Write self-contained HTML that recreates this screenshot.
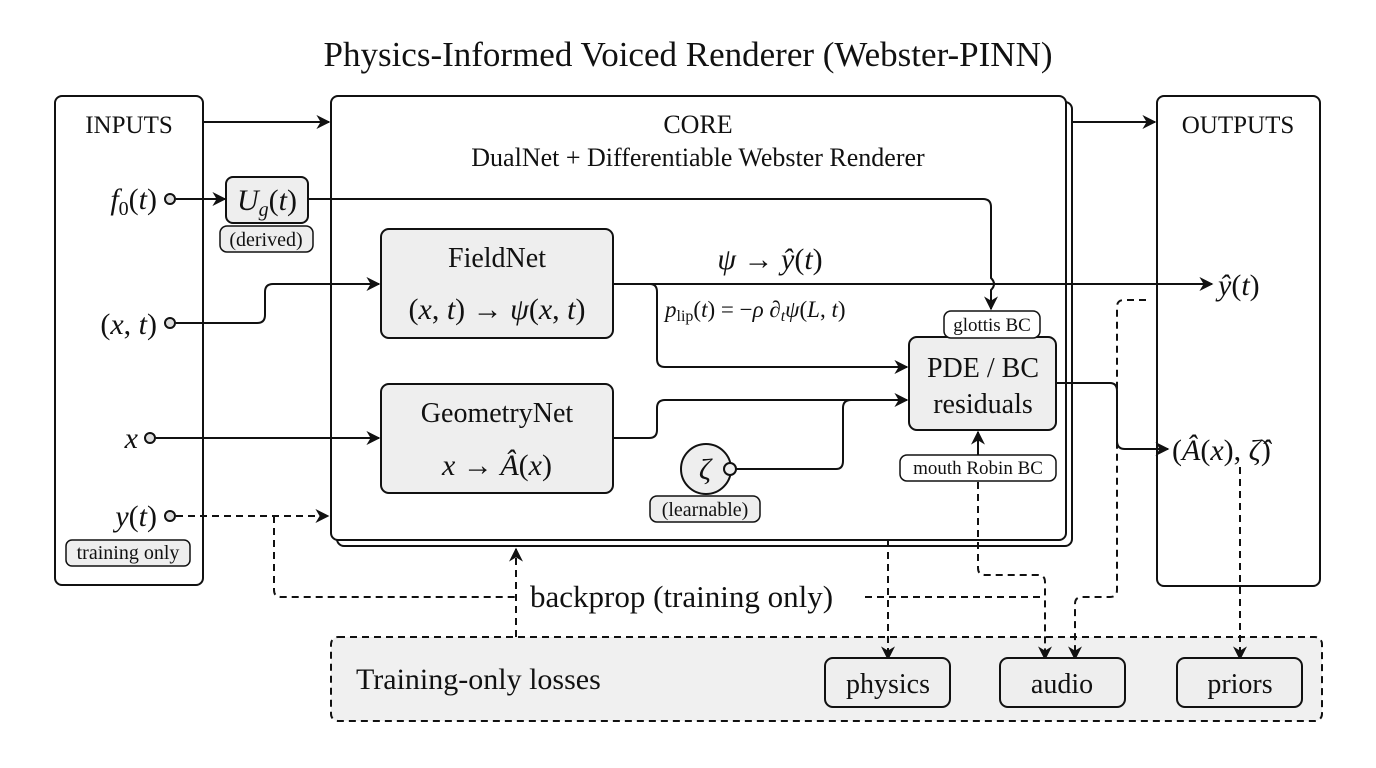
<!DOCTYPE html>
<html><head><meta charset="utf-8"><style>
html,body{margin:0;padding:0;background:#fff;}
svg{display:block;}
text{font-family:"Liberation Serif","DejaVu Serif",serif;fill:#111;}
.m{font-style:italic;}
</style></head><body>
<svg width="1376" height="768" viewBox="0 0 1376 768" xmlns="http://www.w3.org/2000/svg">
<defs>
<marker id="b" viewBox="0 0 10 10" refX="9" refY="5" markerWidth="14" markerHeight="14" orient="auto" markerUnits="userSpaceOnUse"><path d="M0,0 L10,5 L0,10 L3,5 z" fill="#111"/></marker>
</defs>
<rect width="1376" height="768" fill="#fff"/>
<text x="688" y="66" font-size="35" text-anchor="middle">Physics-Informed Voiced Renderer (Webster-PINN)</text>

<rect x="55" y="96" width="148" height="489" rx="7" fill="#fff" stroke="#111" stroke-width="2"/>
<text x="129" y="133" font-size="25" text-anchor="middle">INPUTS</text>
<rect x="337" y="102" width="735" height="444" rx="7" fill="#fff" stroke="#111" stroke-width="2"/>
<rect x="331" y="96" width="735" height="444" rx="7" fill="#fff" stroke="#111" stroke-width="2"/>
<text x="698" y="133" font-size="26" text-anchor="middle">CORE</text>
<text x="698" y="166" font-size="26" text-anchor="middle">DualNet + Differentiable Webster Renderer</text>
<rect x="1157" y="96" width="163" height="490" rx="7" fill="#fff" stroke="#111" stroke-width="2"/>
<text x="1238" y="133" font-size="25" text-anchor="middle">OUTPUTS</text>
<rect x="331" y="637" width="991" height="84" rx="7" fill="#f0f0f0" stroke="#111" stroke-width="2" stroke-dasharray="7,5"/>
<text x="356" y="689" font-size="30">Training-only losses</text>

<line x1="203" y1="122" x2="329" y2="122" stroke="#111" stroke-width="2" marker-end="url(#b)"/>
<line x1="1072" y1="122" x2="1155" y2="122" stroke="#111" stroke-width="2" marker-end="url(#b)"/>

<text x="157" y="209" font-size="30" text-anchor="end" class="m">f<tspan font-size="20" font-style="normal" dy="6">0</tspan><tspan dy="-6" font-style="normal">(</tspan>t<tspan font-style="normal">)</tspan></text>
<text x="157" y="334" font-size="30" text-anchor="end"><tspan>(</tspan><tspan class="m">x</tspan>, <tspan class="m">t</tspan>)</text>
<text x="138" y="448" font-size="30" text-anchor="end" class="m">x</text>
<text x="157" y="526" font-size="30" text-anchor="end"><tspan class="m">y</tspan>(<tspan class="m">t</tspan>)</text>
<rect x="66" y="540" width="124" height="26" rx="6" fill="#eee" stroke="#111" stroke-width="1.5"/>
<text x="128" y="559" font-size="20" text-anchor="middle">training only</text>

<rect x="226" y="177" width="82" height="46" rx="7" fill="#eee" stroke="#111" stroke-width="2"/>
<text x="267" y="210" font-size="30" text-anchor="middle"><tspan class="m">U</tspan><tspan class="m" font-size="20" dy="6">g</tspan><tspan dy="-6">(</tspan><tspan class="m">t</tspan>)</text>
<rect x="220" y="226" width="93" height="26" rx="7" fill="#eee" stroke="#111" stroke-width="1.5"/>
<text x="266" y="246" font-size="20" text-anchor="middle">(derived)</text>
<line x1="176" y1="199" x2="225" y2="199" stroke="#111" stroke-width="2" marker-end="url(#b)"/>
<path d="M308,199 H983 Q991,199 991,207 V278 Q997,284 991,290 V309" fill="none" stroke="#111" stroke-width="2" marker-end="url(#b)"/>

<rect x="381" y="229" width="232" height="109" rx="8" fill="#eee" stroke="#111" stroke-width="2"/>
<text x="497" y="267" font-size="28" text-anchor="middle">FieldNet</text>
<text x="497" y="319" font-size="30" text-anchor="middle">(<tspan class="m">x</tspan>, <tspan class="m">t</tspan>) → <tspan class="m">ψ</tspan>(<tspan class="m">x</tspan>, <tspan class="m">t</tspan>)</text>
<path d="M176,323 H257 Q265,323 265,315 V292 Q265,284 273,284 H379" fill="none" stroke="#111" stroke-width="2" marker-end="url(#b)"/>
<line x1="613" y1="284" x2="1212" y2="284" stroke="#111" stroke-width="2" marker-end="url(#b)"/>
<text x="770" y="269" font-size="30" text-anchor="middle"><tspan class="m">ψ</tspan> → <tspan class="m">ŷ</tspan>(<tspan class="m">t</tspan>)</text>
<text x="665" y="317" font-size="23"><tspan class="m">p</tspan><tspan font-size="16" dy="4">lip</tspan><tspan dy="-4">(</tspan><tspan class="m">t</tspan>) = −<tspan class="m">ρ ∂</tspan><tspan class="m" font-size="16" dy="4">t</tspan><tspan class="m" dy="-4">ψ</tspan>(<tspan class="m">L</tspan>, <tspan class="m">t</tspan>)</text>
<path d="M650,284 Q657,284 657,292 V359 Q657,367 665,367 H907" fill="none" stroke="#111" stroke-width="2" marker-end="url(#b)"/>

<rect x="381" y="384" width="232" height="109" rx="8" fill="#eee" stroke="#111" stroke-width="2"/>
<text x="497" y="422" font-size="28" text-anchor="middle">GeometryNet</text>
<text x="497" y="475" font-size="30" text-anchor="middle"><tspan class="m">x</tspan> → <tspan class="m">Â</tspan>(<tspan class="m">x</tspan>)</text>
<line x1="156" y1="438" x2="379" y2="438" stroke="#111" stroke-width="2" marker-end="url(#b)"/>
<path d="M613,438 H649 Q657,438 657,430 V408 Q657,400 665,400 H907" fill="none" stroke="#111" stroke-width="2" marker-end="url(#b)"/>

<circle cx="706" cy="469" r="25" fill="#eee" stroke="#111" stroke-width="2"/>
<text x="705" y="479" font-size="30" text-anchor="middle" class="m">ζ</text>
<path d="M736,469 H836 Q843,469 843,461 V408 Q843,400 851,400" fill="none" stroke="#111" stroke-width="2"/>
<circle cx="730" cy="469" r="6" fill="#eee" stroke="#111" stroke-width="2"/>
<rect x="650" y="496" width="110" height="26" rx="7" fill="#eee" stroke="#111" stroke-width="1.5"/>
<text x="705" y="516" font-size="20" text-anchor="middle">(learnable)</text>

<rect x="909" y="337" width="147" height="93" rx="8" fill="#eee" stroke="#111" stroke-width="2"/>
<text x="983" y="377" font-size="28" text-anchor="middle">PDE / BC</text>
<text x="983" y="413" font-size="28" text-anchor="middle">residuals</text>
<rect x="944" y="311" width="96" height="27" rx="7" fill="#fff" stroke="#111" stroke-width="1.5"/>
<text x="992" y="331" font-size="19" text-anchor="middle">glottis BC</text>
<rect x="900" y="455" width="156" height="26" rx="7" fill="#fff" stroke="#111" stroke-width="1.5"/>
<text x="978" y="474" font-size="19" text-anchor="middle">mouth Robin BC</text>
<line x1="978" y1="455" x2="978" y2="432" stroke="#111" stroke-width="2" marker-end="url(#b)"/>
<path d="M1056,383 H1110 Q1117,383 1117,391 V441 Q1117,449 1125,449 H1168" fill="none" stroke="#111" stroke-width="2" marker-end="url(#b)"/>

<text x="1218" y="295" font-size="30"><tspan class="m">ŷ</tspan>(<tspan class="m">t</tspan>)</text>
<text x="1172" y="460" font-size="30">(<tspan class="m">Â</tspan>(<tspan class="m">x</tspan>), <tspan class="m">ζ̂</tspan>)</text>

<g fill="none" stroke="#111" stroke-width="2" stroke-dasharray="7,5">
<line x1="176" y1="516" x2="328" y2="516" marker-end="url(#b)"/>
<path d="M274,516 V590 Q274,597 281,597 H515"/>
<line x1="516" y1="637" x2="516" y2="549" marker-end="url(#b)"/>
<line x1="888" y1="540" x2="888" y2="659" marker-end="url(#b)"/>
<path d="M865,597 H1045"/>
<path d="M978,482 V568 Q978,575 985,575 H1038 Q1045,575 1045,582 V659" marker-end="url(#b)"/>
<path d="M1146,300 H1124 Q1117,300 1117,307 V590 Q1117,597 1110,597 H1082 Q1075,597 1075,604 V659" marker-end="url(#b)"/>
<line x1="1240" y1="467" x2="1240" y2="659" marker-end="url(#b)"/>
</g>
<text x="530" y="607" font-size="31">backprop (training only)</text>

<g fill="#ddd" stroke="#111" stroke-width="2">
<circle cx="170" cy="199" r="5"/><circle cx="170" cy="323" r="5"/><circle cx="150" cy="438" r="5"/><circle cx="170" cy="516" r="5"/>
</g>

<g fill="#eee" stroke="#111" stroke-width="2">
<rect x="825" y="658" width="125" height="49" rx="8"/>
<rect x="1000" y="658" width="125" height="49" rx="8"/>
<rect x="1177" y="658" width="125" height="49" rx="8"/>
</g>
<text x="888" y="693" font-size="28" text-anchor="middle">physics</text>
<text x="1062" y="693" font-size="28" text-anchor="middle">audio</text>
<text x="1240" y="693" font-size="28" text-anchor="middle">priors</text>
</svg>
</body></html>
